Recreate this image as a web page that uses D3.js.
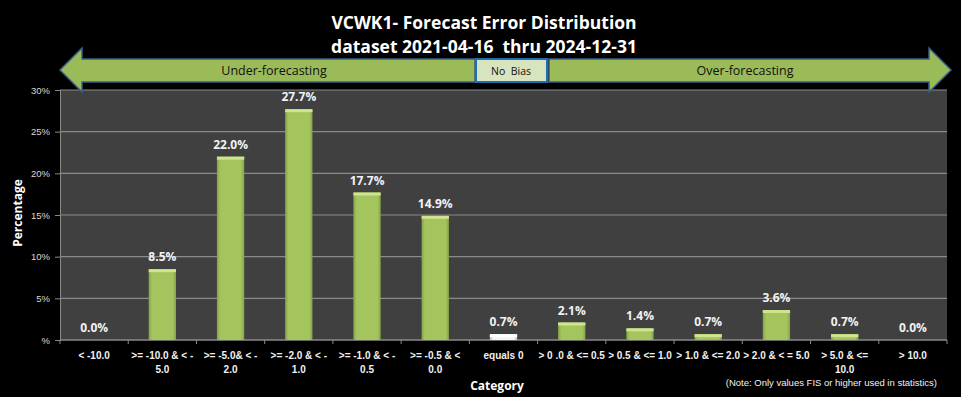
<!DOCTYPE html>
<html>
<head>
<meta charset="utf-8">
<script src="https://cdn.jsdelivr.net/npm/d3@7"></script>
<style>
  html, body { margin: 0; padding: 0; background: #000; }
  svg { display: block; font-family: "Open Sans", "Liberation Sans", sans-serif; }
</style>
</head>
<body>
<svg id="chart" width="961" height="397"></svg>
<script>
// chart data
const categories = [
  ["< -10.0"],
  [">= -10.0 & < -", "5.0"],
  [">= -5.0& < -", "2.0"],
  [">= -2.0 & < -", "1.0"],
  [">= -1.0 & < -", "0.5"],
  [">= -0.5 & <", "0.0"],
  ["equals 0"],
  ["> 0 .0 & <= 0.5"],
  ["> 0.5 & <= 1.0"],
  ["> 1.0 & <= 2.0"],
  ["> 2.0 & < = 5.0"],
  ["> 5.0 & <=", "10.0"],
  ["> 10.0"]
];
const percents = [0.0, 8.5, 22.0, 27.7, 17.7, 14.9, 0.7, 2.1, 1.4, 0.7, 3.6, 0.7, 0.0];
const noBiasIndex = 6;
const yTicks = [0, 5, 10, 15, 20, 25, 30];
const titleLines = ["VCWK1- Forecast Error Distribution", "dataset 2021-04-16  thru 2024-12-31"];

const svg = d3.select("#chart");
const margin = { top: 90, right: 14, bottom: 57, left: 60 };
const width = 961 - margin.left - margin.right;
const height = 397 - margin.top - margin.bottom;

const defs = svg.append("defs");
// bar gradients (green, and the whitish one for "equals 0")
function barGradient(id, edge, mid) {
  const g = defs.append("linearGradient").attr("id", id).attr("x1", 0).attr("x2", 1).attr("y1", 0).attr("y2", 0);
  g.append("stop").attr("offset", "0%").attr("stop-color", edge);
  g.append("stop").attr("offset", "12%").attr("stop-color", mid);
  g.append("stop").attr("offset", "88%").attr("stop-color", mid);
  g.append("stop").attr("offset", "100%").attr("stop-color", edge);
}
barGradient("barGreen", "#86a24a", "#a4c55e");
barGradient("barWhite", "#b8c4a4", "#f4f6ee");

const x = d3.scaleBand().domain(d3.range(categories.length)).range([0, width]).paddingInner(0.6).paddingOuter(0.3);
const y = d3.scaleLinear().domain([0, 30]).range([height, 0]);

// title
svg.append("g").selectAll("text")
  .data(titleLines)
  .enter()
  .append("text")
  .attr("x", 484)
  .attr("y", (d, i) => 29 + i * 24)
  .attr("text-anchor", "middle")
  .attr("fill", "#fff")
  .attr("font-size", "17.5px")
  .attr("font-weight", "bold")
  .style("white-space", "pre")
  .text(d => d);

const g = svg.append("g").attr("transform", `translate(${margin.left},${margin.top})`);

g.append("rect").attr("width", width).attr("height", height).attr("fill", "#404040");

// gridlines
g.append("g").selectAll("line")
  .data(yTicks)
  .enter()
  .append("line")
  .attr("x1", 0).attr("x2", width)
  .attr("y1", d => y(d)).attr("y2", d => y(d))
  .attr("stroke", "#8a8a8a")
  .attr("stroke-width", 1.2);

// y axis
const yAxis = g.append("g")
  .call(d3.axisLeft(y).tickValues(yTicks).tickSize(5).tickFormat(d => d === 0 ? "%" : d + "%"));
yAxis.select(".domain").attr("stroke", "#8a8a8a");
yAxis.selectAll(".tick line").attr("stroke", "#8a8a8a");
yAxis.selectAll(".tick text")
  .attr("fill", "#d8d8d8")
  .attr("font-size", "9.5px")
  .attr("font-family", "\"Liberation Sans\", sans-serif")
  .attr("x", -10);

// x axis ticks at category boundaries
const step = width / categories.length;
g.append("line").attr("x1", 0).attr("x2", width).attr("y1", height).attr("y2", height).attr("stroke", "#8a8a8a");
g.append("g").selectAll("line")
  .data(d3.range(categories.length + 1))
  .enter()
  .append("line")
  .attr("x1", d => d * step).attr("x2", d => d * step)
  .attr("y1", height).attr("y2", height + 4)
  .attr("stroke", "#8a8a8a");

// bars
const barData = percents.map((v, i) => ({ v, i }));
const bars = g.append("g").selectAll("g")
  .data(barData)
  .enter()
  .append("g")
  .attr("transform", d => `translate(${x(d.i)},0)`);

const filled = bars.filter(d => d.v > 0);
filled.append("rect")
  .attr("y", d => y(d.v))
  .attr("width", x.bandwidth())
  .attr("height", d => height - y(d.v))
  .attr("fill", d => d.i === noBiasIndex ? "url(#barWhite)" : "url(#barGreen)");

// top bevel
filled.append("rect")
  .attr("y", d => y(d.v))
  .attr("width", x.bandwidth())
  .attr("height", d => Math.min(3, height - y(d.v)))
  .attr("fill", d => d.i === noBiasIndex ? "#ffffff" : "#cfe48f");

// value labels
bars.append("text")
  .attr("x", x.bandwidth() / 2)
  .attr("y", d => y(d.v) - 8)
  .attr("text-anchor", "middle")
  .attr("fill", "#f2f2f2")
  .attr("font-size", "12px")
  .attr("font-weight", "bold")
  .text(d => d.v.toFixed(1) + "%");

// category labels
const catLabels = g.append("g").selectAll("text")
  .data(categories)
  .enter()
  .append("text")
  .attr("x", (d, i) => x(i) + x.bandwidth() / 2)
  .attr("y", height + 19)
  .attr("text-anchor", "middle")
  .attr("fill", "#f2f2f2")
  .attr("font-size", "10px")
  .attr("font-weight", "bold")
  .attr("font-family", "\"Liberation Sans Narrow\", \"Liberation Sans\", sans-serif");
catLabels.selectAll("tspan")
  .data(d => d)
  .enter()
  .append("tspan")
  .attr("x", function () { return this.parentNode.getAttribute("x"); })
  .attr("dy", (d, i) => i === 0 ? 0 : 14)
  .text(d => d);

// axis titles
svg.append("text")
  .attr("x", 497).attr("y", 390)
  .attr("text-anchor", "middle")
  .attr("fill", "#fff")
  .attr("font-size", "12px")
  .attr("font-weight", "bold")
  .text("Category");

svg.append("text")
  .attr("transform", "translate(22,213) rotate(-90)")
  .attr("text-anchor", "middle")
  .attr("fill", "#fff")
  .attr("font-size", "12px")
  .attr("font-weight", "bold")
  .text("Percentage");

svg.append("text")
  .attr("x", 937).attr("y", 386)
  .attr("text-anchor", "end")
  .attr("fill", "#f2f2f2")
  .attr("font-size", "9.5px")
  .attr("font-family", "\"Liberation Sans Narrow\", \"Liberation Sans\", sans-serif")
  .text("(Note: Only values FIS or higher used in statistics)");

// bias arrows
const arrowFill = "#9bbb59";
const arrowStroke = "#3a5f8a";
const leftArrow = [[60, 70], [82, 48], [82, 59], [475, 59], [475, 82], [82, 82], [82, 92]];
const rightArrow = [[951, 70], [929, 48], [929, 59], [549, 59], [549, 82], [929, 82], [929, 92]];
[leftArrow, rightArrow].forEach(pts => {
  svg.append("path")
    .attr("d", d3.line()(pts) + "Z")
    .attr("fill", arrowFill)
    .attr("stroke", arrowStroke)
    .attr("stroke-width", 1.5);
});
svg.append("rect")
  .attr("x", 476).attr("y", 59).attr("width", 71).attr("height", 23)
  .attr("fill", "#d7e4bd")
  .attr("stroke", "#1f6db3")
  .attr("stroke-width", 2);

const arrowText = [["Under-forecasting", 274, 12.5], ["No  Bias", 511, 10.5], ["Over-forecasting", 745, 12.5]];
svg.append("g").selectAll("text")
  .data(arrowText)
  .enter()
  .append("text")
  .attr("x", d => d[1])
  .attr("y", 75)
  .attr("text-anchor", "middle")
  .attr("fill", "#111")
  .attr("font-size", d => d[2] + "px")
  .style("white-space", "pre")
  .text(d => d[0]);
</script>
</body>
</html>
